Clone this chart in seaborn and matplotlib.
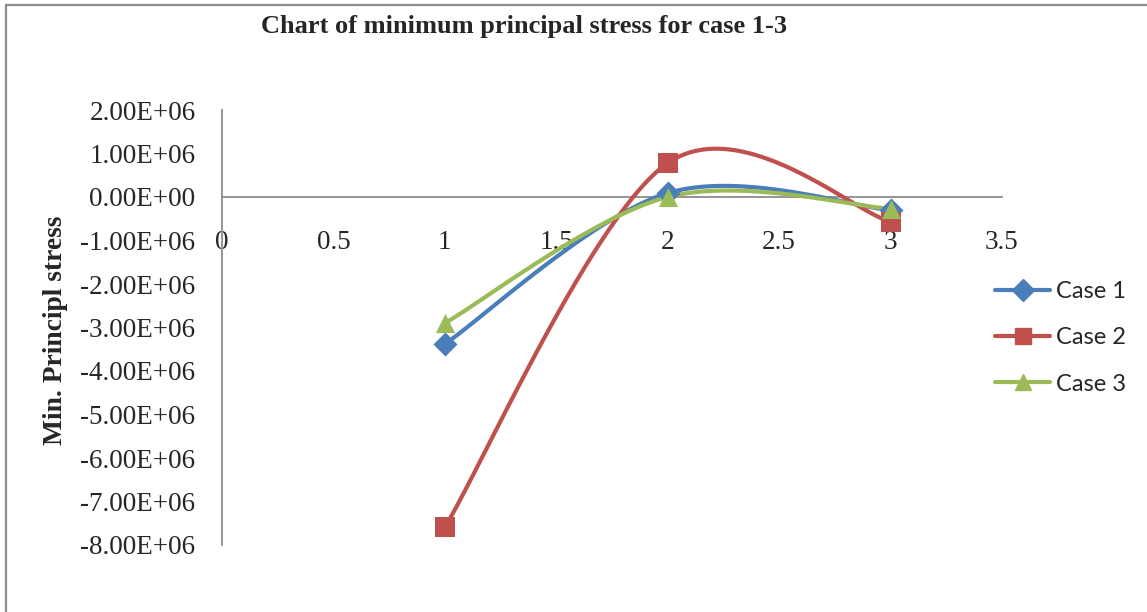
import numpy as np
import pandas as pd
import matplotlib
matplotlib.use("Agg")
import matplotlib.pyplot as plt
import seaborn as sns
from matplotlib.lines import Line2D

# Data
x_values = [1, 2, 3]
case1 = [-3.38e6, 0.09e6, -0.30e6]
case2 = [-7.59e6, 0.78e6, -0.57e6]
case3 = [-2.90e6, 0.00e6, -0.27e6]
series_names = ["Case 1", "Case 2", "Case 3"]
x_ticks = [0, 0.5, 1, 1.5, 2, 2.5, 3, 3.5]
y_ticks = [2e6, 1e6, 0, -1e6, -2e6, -3e6, -4e6, -5e6, -6e6, -7e6, -8e6]

colors = ["#4A7EBB", "#C0504D", "#9BBB59"]
markers = ["D", "s", "^"]


def smooth_curve(xs, ys, n=60):
    # Excel-like smoothed line: cubic Bezier segments with Catmull-Rom tangents
    p = np.column_stack([xs, ys]).astype(float)
    k = len(p)
    tangents = []
    for i in range(k):
        a = p[max(i - 1, 0)]
        b = p[min(i + 1, k - 1)]
        tangents.append((b - a) / 2.0)
    out = []
    t = np.linspace(0, 1, n)[:, None]
    for i in range(k - 1):
        b0 = p[i]
        b1 = p[i] + tangents[i] / 3.0
        b2 = p[i + 1] - tangents[i + 1] / 3.0
        b3 = p[i + 1]
        seg = ((1 - t) ** 3) * b0 + 3 * ((1 - t) ** 2) * t * b1 \
            + 3 * (1 - t) * t ** 2 * b2 + t ** 3 * b3
        out.append(seg if i == 0 else seg[1:])
    seg_all = np.vstack(out)
    return seg_all[:, 0], seg_all[:, 1]


sns.set_theme(style="white")
plt.rcParams["font.family"] = ["Liberation Serif", "DejaVu Serif"]

W, H = 1147, 612
fig = plt.figure(figsize=(W / 100, H / 100), dpi=100)
ax = fig.add_axes([222 / W, 1 - 545 / H, 780 / W, 435 / H])

for name, ys, col, mk in zip(series_names, [case1, case2, case3], colors, markers):
    cx, cy = smooth_curve(x_values, ys)
    sns.lineplot(x=cx, y=cy, ax=ax, color=col, linewidth=3.0, sort=False,
                 estimator=None, zorder=3)
    sns.scatterplot(x=x_values, y=ys, ax=ax, color=col, marker=mk,
                    s=190 if mk != "D" else 150, edgecolor=col, linewidth=0,
                    zorder=4)

ax.set_xlim(0, 3.5)
ax.set_ylim(-8e6, 2e6)
ax.set_xticks(x_ticks)
ax.set_xticklabels([f"{v:g}" for v in x_ticks])
ax.set_yticks(y_ticks)
ax.set_yticklabels([f"{v:.2E}" for v in y_ticks])

for s in ["top", "right"]:
    ax.spines[s].set_visible(False)
ax.spines["bottom"].set_position(("data", 0))
ax.spines["bottom"].set_color("#8c8c8c")
ax.spines["left"].set_color("#8c8c8c")
ax.spines["bottom"].set_linewidth(1.3)
ax.spines["left"].set_linewidth(1.3)
ax.tick_params(axis="x", length=0, pad=24, labelsize=19.5)
ax.tick_params(axis="y", length=0, pad=19, labelsize=19.5)
ax.set_xlabel("")
ax.set_ylabel("")
ax.grid(False)

fig.text(524 / W, 1 - 27 / H, "Chart of minimum principal stress for case 1-3",
         ha="center", va="center", fontsize=19, fontweight="bold")
fig.text(55 / W, 1 - 330 / H, "Min. Principl stress", rotation=90,
         ha="center", va="center", fontsize=19.8, fontweight="bold")

handles = [Line2D([0], [0], color=c, marker=m, lw=3.0, markersize=12 if m != "D" else 11)
           for c, m in zip(colors, markers)]
leg = fig.legend(handles, series_names, loc="center left",
                 bbox_to_anchor=(995 / W, 1 - 338 / H), frameon=False,
                 borderpad=0, borderaxespad=0, handlelength=2.35,
                 handletextpad=0.25, labelspacing=1.06,
                 prop={"family": "Lato", "size": 17})

# outer chart border (only top and left visible in reference)
fig.add_artist(Line2D([6 / W, 6 / W], [0, 1 - 5 / H], color="#8c8c8c", lw=1.6))
fig.add_artist(Line2D([6 / W, 1], [1 - 5 / H, 1 - 5 / H], color="#8c8c8c", lw=1.6))

fig.savefig("out.png", dpi=100)
